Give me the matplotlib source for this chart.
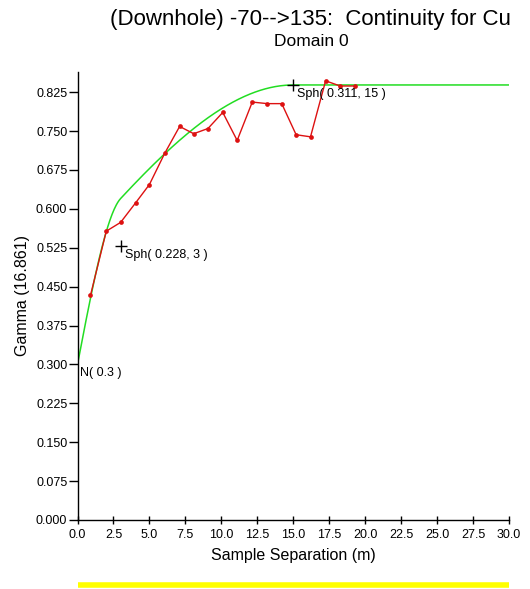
import numpy as np
import matplotlib
matplotlib.use("Agg")
import matplotlib.pyplot as plt
import matplotlib.transforms as mtransforms

plt.rcParams['font.family'] = ['Liberation Sans', 'DejaVu Sans']

# Experimental variogram (lag distance, gamma)
lag = [0.9, 2.0, 3.0, 4.05, 5.0, 6.06, 7.1, 8.08, 9.07, 10.1, 11.1, 12.15, 13.2,
       14.2, 15.2, 16.2, 17.25, 18.26, 19.28]
gamma = [0.433, 0.557, 0.574, 0.612, 0.647, 0.707, 0.759, 0.745, 0.755, 0.786,
         0.732, 0.806, 0.803, 0.803, 0.743, 0.739, 0.847, 0.837, 0.837]

# Model: nugget + spherical structures
nugget = 0.3
sph_sill = [0.228, 0.311]
sph_range = [3, 15]

xticks = [0.0, 2.5, 5.0, 7.5, 10.0, 12.5, 15.0, 17.5, 20.0, 22.5, 25.0, 27.5, 30.0]
yticks = [0.000, 0.075, 0.150, 0.225, 0.300, 0.375, 0.450, 0.525, 0.600, 0.675, 0.750, 0.825]


def model(h):
    h = np.asarray(h, dtype=float)
    g = np.full_like(h, nugget)
    for c, a in zip(sph_sill, sph_range):
        r = np.minimum(h / a, 1.0)
        g = g + c * (1.5 * r - 0.5 * r ** 3)
    return g


fig = plt.figure(figsize=(5.30, 5.89), dpi=100)
ax = fig.add_axes([77.5 / 530, 69 / 589, 431.5 / 530, 448 / 589])

hm = np.linspace(0, 30, 601)
ax.plot(hm, model(hm), color='#22dd22', lw=1.1, zorder=2)
ax.plot(lag, gamma, color='#dd1111', lw=1.0, marker='o', ms=3.4,
        markeredgewidth=0, zorder=3)

# structure markers
cum = nugget
for c, a in zip(sph_sill, sph_range):
    cum += c
    ax.plot([a], [cum], marker='+', color='black', ms=9, mew=1.0, zorder=4)
    ax.annotate(f'Sph( {c}, {a} )', (a, cum), xytext=(3, -2),
                textcoords='offset points', ha='left', va='top', fontsize=9)
ax.annotate(f'N( {nugget} )', (0, nugget), xytext=(1.5, -2),
            textcoords='offset points', ha='left', va='top', fontsize=9)

ax.set_xlim(0, 30)
ax.set_ylim(0, 0.864)
ax.set_xticks(xticks)
ax.set_xticklabels([f'{v:.1f}' for v in xticks])
ax.set_yticks(yticks)
ax.set_yticklabels([f'{v:.3f}' for v in yticks])
ax.set_yticks(yticks, minor=True)
for s in ['top', 'right']:
    ax.spines[s].set_visible(False)
for s in ['left', 'bottom']:
    ax.spines[s].set_linewidth(1.0)
ax.tick_params(axis='x', direction='inout', length=6, width=1.0, labelsize=9, pad=3.5)
ax.tick_params(axis='y', which='major', direction='out', length=6.8, width=1.0,
               labelsize=9, pad=0.5)
ax.tick_params(axis='y', which='minor', direction='in', length=3, width=1.0)
ax.set_xlabel('Sample Separation (m)', fontsize=11.5, labelpad=5)
ax.set_ylabel('Gamma (16.861)', fontsize=11.5, labelpad=4)

# yellow bar below the chart
trans = mtransforms.blended_transform_factory(ax.transData, ax.transAxes)
ax.plot([0, 30], [-65 / 448, -65 / 448], color='#ffff00', lw=4, clip_on=False,
        solid_capstyle='butt', transform=trans)

fig.text(310 / 530, 1 - 20 / 589, '(Downhole) -70-->135:  Continuity for Cu',
         ha='center', va='center', fontsize=16)
fig.text(311 / 530, 1 - 41 / 589, 'Domain 0', ha='center', va='center',
         fontsize=12.5)

fig.savefig('out.png', dpi=100, facecolor='white')
